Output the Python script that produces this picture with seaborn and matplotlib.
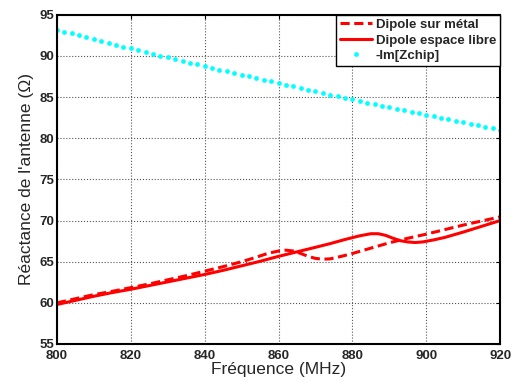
import matplotlib
matplotlib.use("Agg")
import matplotlib.pyplot as plt
import pandas as pd
import seaborn as sns

# Dipole espace libre (solid)
freq_libre = [800, 805, 810, 815, 820, 825, 830, 835, 840, 845, 850, 855, 860,
              865, 870, 874, 878, 882, 885, 887, 889, 891, 893, 895, 897, 899,
              902, 905, 910, 915, 920]
react_libre = [59.8, 60.3, 60.8, 61.25, 61.65, 62.1, 62.55, 63.0, 63.45, 63.95,
               64.5, 65.05, 65.65, 66.2, 66.75, 67.2, 67.7, 68.15, 68.4, 68.4,
               68.2, 67.85, 67.55, 67.4, 67.33, 67.4, 67.65, 67.95, 68.6, 69.3,
               70.0]

# Dipole sur métal (dashed)
freq_metal = [800, 805, 810, 815, 820, 825, 830, 835, 840, 845, 850, 854, 857,
              860, 862, 864, 866, 868, 870, 872, 874, 877, 880, 885, 890, 895,
              900, 905, 910, 915, 920]
react_metal = [60.0, 60.5, 61.0, 61.4, 61.85, 62.3, 62.8, 63.3, 63.85, 64.4,
               65.0, 65.55, 66.0, 66.3, 66.4, 66.3, 66.0, 65.65, 65.4, 65.3,
               65.35, 65.65, 66.0, 66.65, 67.3, 67.85, 68.35, 68.9, 69.45,
               69.95, 70.45]

# -Im[Zchip] (dots every 2 MHz)
freq_chip = list(range(800, 921, 2))
react_chip = [93.20, 92.97, 92.74, 92.51, 92.28, 92.05, 91.82, 91.60, 91.37,
              91.15, 90.93, 90.71, 90.49, 90.27, 90.05, 89.83, 89.62, 89.40,
              89.19, 88.97, 88.76, 88.55, 88.34, 88.13, 87.92, 87.72, 87.51,
              87.31, 87.10, 86.90, 86.70, 86.50, 86.30, 86.10, 85.90, 85.70,
              85.50, 85.31, 85.11, 84.92, 84.73, 84.53, 84.34, 84.15, 83.96,
              83.78, 83.59, 83.40, 83.21, 83.03, 82.84, 82.66, 82.48, 82.30,
              82.11, 81.93, 81.75, 81.58, 81.40, 81.22, 81.04]

x_ticks = [800, 820, 840, 860, 880, 900, 920]
y_ticks = [55, 60, 65, 70, 75, 80, 85, 90, 95]

sns.set_style("white")
plt.rcParams["font.family"] = ["Liberation Sans", "DejaVu Sans"]

fig = plt.figure(figsize=(5.13, 3.85), dpi=100)
ax = fig.add_axes([0.111, 0.1065, 0.864, 0.855])

df_metal = pd.DataFrame({"f": freq_metal, "x": react_metal})
df_libre = pd.DataFrame({"f": freq_libre, "x": react_libre})
df_chip = pd.DataFrame({"f": freq_chip, "x": react_chip})

sns.lineplot(data=df_metal, x="f", y="x", ax=ax, color="red", lw=2.2,
             linestyle=(0, (3.0, 1.5)), label="Dipole sur métal")
sns.lineplot(data=df_libre, x="f", y="x", ax=ax, color="red", lw=2.2,
             label="Dipole espace libre")
sns.lineplot(data=df_chip, x="f", y="x", ax=ax, color="cyan", linestyle="",
             marker="o", markersize=3.4, markeredgewidth=0,
             label="-Im[Zchip]")

ax.set_xlim(800, 920)
ax.set_ylim(55, 95)
ax.set_xticks(x_ticks)
ax.set_yticks(y_ticks)
ax.grid(True, color="#555555", linestyle=":", linewidth=0.8)
ax.tick_params(direction="in", length=3, width=0.8, top=True, right=True,
               labelsize=9.5, pad=2, color="black")
ax.tick_params(axis="x", pad=4)
for lbl in ax.get_xticklabels() + ax.get_yticklabels():
    lbl.set_fontweight("bold")
for sp in ax.spines.values():
    sp.set_color("black")
    sp.set_linewidth(1.5)

ax.set_xlabel("Fréquence (MHz)", fontsize=12.5, labelpad=0)
ax.set_ylabel("Réactance de l'antenne (Ω)", fontsize=12.5, labelpad=4)

leg = ax.legend(loc="upper right", fancybox=False, edgecolor="black",
                framealpha=1, borderaxespad=0, fontsize=9.5,
                handlelength=2.4, handletextpad=0.3, borderpad=0.3,
                labelspacing=0.25)
leg.get_frame().set_linewidth(1.0)
for t in leg.get_texts():
    t.set_fontweight("bold")

fig.savefig("out.png", dpi=100)
